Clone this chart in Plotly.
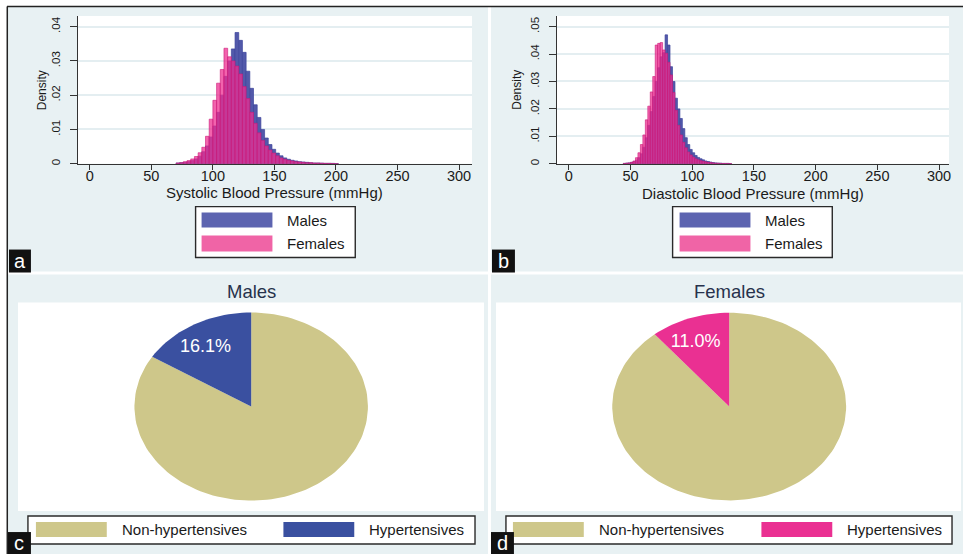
import math
import plotly.graph_objects as go

W, H = 965, 555
FONT = "Liberation Sans, Arial, sans-serif"

# ---------------- data ----------------
sex_labels = ["Males", "Females"]
status_labels = ["Non-hypertensives", "Hypertensives"]
pie_titles = ["Males", "Females"]
panel_letters = ["a", "b", "c", "d"]

male_pct = [83.9, 16.1]
female_pct = [89.0, 11.0]

x_ticks = [0, 50, 100, 150, 200, 250, 300]
sbp_yticks = [0, 0.01, 0.02, 0.03, 0.04]
sbp_yticktext = ["0", ".01", ".02", ".03", ".04"]
dbp_yticks = [0, 0.01, 0.02, 0.03, 0.04, 0.05]
dbp_yticktext = ["0", ".01", ".02", ".03", ".04", ".05"]

sbp_title = "Systolic Blood Pressure (mmHg)"
dbp_title = "Diastolic Blood Pressure (mmHg)"
y_title = "Density"

sbp_bin_width = 3
sbp_edges = [70, 73, 76, 79, 82, 85, 88, 91, 94, 97, 100, 103, 106, 109, 112, 115,
             118, 121, 124, 127, 130, 133, 136, 139, 142, 145, 148, 151, 154, 157,
             160, 163, 166, 169, 172, 175, 178, 181, 184, 187, 190, 193, 196, 199]
sbp_male = [0.0002, 0.0003, 0.0004, 0.0006, 0.0009, 0.0014, 0.0022, 0.0035, 0.0052,
            0.0078, 0.0110, 0.0150, 0.0200, 0.0255, 0.0300, 0.0335, 0.0383, 0.0360,
            0.0325, 0.0270, 0.0220, 0.0172, 0.0135, 0.0100, 0.0075, 0.0056, 0.0042,
            0.0031, 0.0023, 0.0017, 0.0013, 0.0010, 0.0008, 0.0006, 0.0005, 0.0004,
            0.0003, 0.0002, 0.0002, 0.00015, 0.0001, 0.0001, 0.0001, 0.00005]
sbp_female = [0.0002, 0.0003, 0.0006, 0.0009, 0.0014, 0.0021, 0.0032, 0.0048, 0.0080,
              0.0130, 0.0185, 0.0235, 0.0275, 0.0337, 0.0312, 0.0300, 0.0285, 0.0262,
              0.0225, 0.0190, 0.0150, 0.0118, 0.0090, 0.0068, 0.0052, 0.0040, 0.0031,
              0.0023, 0.0017, 0.0013, 0.0010, 0.0008, 0.0006, 0.0005, 0.0004, 0.0003,
              0.0003, 0.0002, 0.0002, 0.00015, 0.0001, 0.0001, 0.00005, 0.0]

dbp_bin_width = 2
dbp_edges = [44, 46, 48, 50, 52, 54, 56, 58, 60, 62, 64, 66, 68, 70, 72, 74, 76, 78,
             80, 82, 84, 86, 88, 90, 92, 94, 96, 98, 100, 102, 104, 106, 108, 110,
             112, 114, 116, 118, 120, 122, 124, 126, 128, 130]
dbp_male = [0.0001, 0.0002, 0.0003, 0.0005, 0.0008, 0.0013, 0.0022, 0.0036, 0.0060,
            0.0095, 0.0140, 0.0190, 0.0245, 0.0300, 0.0350, 0.0390, 0.0405, 0.0470,
            0.0433, 0.0354, 0.0300, 0.0239, 0.0200, 0.0165, 0.0128, 0.0095, 0.0070,
            0.0052, 0.0040, 0.0030, 0.0023, 0.0018, 0.0014, 0.0010, 0.0008, 0.0006,
            0.0004, 0.0003, 0.0002, 0.0002, 0.0001, 0.0001, 0.0001, 0.00005]
dbp_female = [0.0001, 0.0002, 0.0003, 0.0005, 0.0010, 0.0022, 0.0040, 0.0070, 0.0105,
              0.0160, 0.0210, 0.0262, 0.0318, 0.0433, 0.0439, 0.0442, 0.0415, 0.0403,
              0.0370, 0.0324, 0.0260, 0.0195, 0.0140, 0.0105, 0.0078, 0.0058, 0.0043,
              0.0032, 0.0024, 0.0018, 0.0014, 0.0011, 0.0009, 0.0007, 0.0005, 0.0004,
              0.0003, 0.0002, 0.0002, 0.0001, 0.0001, 0.0001, 0.0001, 0.00005]

# ---------------- styles ----------------
BG = "#E8F1F3"
GRID = "#E4EEF1"
MALE_BAR = "#5259AA"
MALE_LINE = "#3D459C"
FEMALE_BAR = "rgba(238,45,145,0.74)"
FEMALE_LINE = "rgba(205,25,120,0.85)"
MALE_SW = "#5D64B0"
FEMALE_SW = "#F064A6"
KHAKI = "#CEC78A"
NAVY = "#3A50A0"
PINK = "#EA3092"
TXT = "#1A1A1A"


def fx(px):
    return px / W


def fy(py):
    return 1 - py / H


fig = go.Figure()

# ---------------- histograms ----------------
def add_hist(edges, width, male, female, ax):
    cx = [e + width / 2 for e in edges]
    fig.add_trace(go.Bar(x=cx, y=male, width=width, name=sex_labels[0],
                         marker=dict(color=MALE_BAR, line=dict(color=MALE_LINE, width=0.7)),
                         xaxis="x" + ax, yaxis="y" + ax, showlegend=False))
    fig.add_trace(go.Bar(x=cx, y=female, width=width, name=sex_labels[1],
                         marker=dict(color=FEMALE_BAR, line=dict(color=FEMALE_LINE, width=0.7)),
                         xaxis="x" + ax, yaxis="y" + ax, showlegend=False))


add_hist(sbp_edges, sbp_bin_width, sbp_male, sbp_female, "")
add_hist(dbp_edges, dbp_bin_width, dbp_male, dbp_female, "2")

# ---------------- pies (elliptical, drawn on axes) ----------------
def arc_points(a0, a1, n=160):
    steps = max(2, int(abs(a1 - a0) / 360 * n) + 2)
    xs, ys = [], []
    for i in range(steps):
        a = math.radians(a0 + (a1 - a0) * i / (steps - 1))
        xs.append(math.cos(a))
        ys.append(math.sin(a))
    return xs, ys


def add_pie(values, colors, ax):
    start = 90.0
    total = sum(values)
    for i, v in enumerate(values):
        end = start - 360.0 * v / total
        xs, ys = arc_points(start, end)
        fig.add_trace(go.Scatter(x=[0] + xs + [0], y=[0] + ys + [0], mode="lines",
                                 fill="toself", fillcolor=colors[i],
                                 line=dict(width=0, color=colors[i]),
                                 name=status_labels[i], hoverinfo="skip",
                                 xaxis="x" + ax, yaxis="y" + ax, showlegend=False))
        if i == 1:
            mid = math.radians((start + end) / 2 + 3)
            r = 0.74
            fig.add_trace(go.Scatter(x=[r * math.cos(mid)], y=[r * math.sin(mid)],
                                     mode="text", text=[f"{v:.1f}%"],
                                     textfont=dict(color="white", size=18, family=FONT),
                                     xaxis="x" + ax, yaxis="y" + ax, showlegend=False,
                                     hoverinfo="skip"))
        start = end


add_pie(male_pct, [KHAKI, NAVY], "3")
add_pie(female_pct, [KHAKI, PINK], "4")

# ---------------- axes ----------------
def hist_axes(px0, px1, zero_px, px_per_unit, ymax_val, yticks, ytext):
    xr = [(px0 - zero_px) / px_per_unit, (px1 - zero_px) / px_per_unit]
    xa = dict(domain=[fx(px0), fx(px1)], range=xr, tickvals=x_ticks,
              ticks="outside", ticklen=5, tickcolor="#333", tickwidth=1,
              showline=True, linecolor="#333", linewidth=1, showgrid=False,
              zeroline=False, tickfont=dict(size=14.5, color=TXT, family=FONT),
              ticklabelstandoff=-6, fixedrange=True)
    ya = dict(domain=[fy(164), fy(16)], range=[0, ymax_val], tickvals=yticks,
              ticktext=ytext, tickangle=-90, ticks="outside", ticklen=7,
              tickcolor="#333", tickwidth=1, showline=True, linecolor="#333",
              linewidth=1, showgrid=True, gridcolor=GRID, gridwidth=1.6,
              zeroline=False, tickfont=dict(size=11.5, color=TXT, family=FONT),
              ticklabelstandoff=5, fixedrange=True)
    return xa, ya


xa1, ya1 = hist_axes(78, 473, 90, (460 - 90) / 300, (164 - 16) / (137.3 / 0.04),
                     sbp_yticks, sbp_yticktext)
xa2, ya2 = hist_axes(558, 951, 570, (941 - 570) / 300, (164 - 16) / (137.3 / 0.05),
                     dbp_yticks, dbp_yticktext)
xa1["anchor"] = "y"
ya1["anchor"] = "x"
xa2["anchor"] = "y2"
ya2["anchor"] = "x2"


def pie_axes(px0, px1, py0, py1, cx, cy, rx, ry, anchor_x, anchor_y):
    xa = dict(domain=[fx(px0), fx(px1)], range=[(px0 - cx) / rx, (px1 - cx) / rx],
              visible=False, fixedrange=True, anchor=anchor_y)
    ya = dict(domain=[fy(py1), fy(py0)], range=[(cy - py1) / ry, (cy - py0) / ry],
              visible=False, fixedrange=True, anchor=anchor_x)
    return xa, ya


xa3, ya3 = pie_axes(18, 485, 303, 512, 251.7, 407.3, 117.0, 94.2, "x3", "y3")
xa4, ya4 = pie_axes(497, 963, 303, 512, 730.7, 407.3, 117.2, 94.0, "x4", "y4")

# ---------------- shapes ----------------
shapes = []


def rect(x0, y0, x1, y1, fill, line_color=None, lw=0, layer="below"):
    shapes.append(dict(type="rect", xref="paper", yref="paper",
                       x0=fx(x0), x1=fx(x1), y0=fy(y1), y1=fy(y0),
                       fillcolor=fill, layer=layer,
                       line=dict(width=lw, color=line_color or fill)))


# panel backgrounds
panels = [(8, 7, 489, 272), (492, 7, 965, 272), (8, 275, 489, 555), (492, 275, 965, 555)]
for p in panels:
    rect(*p, BG)
# white plot regions
rect(78, 16, 473, 164, "white")
rect(558, 16, 951, 164, "white")
rect(18, 303, 485, 512, "white")
rect(497, 303, 963, 512, "white")

# outer border lines
shapes.append(dict(type="line", xref="paper", yref="paper", x0=fx(7), x1=fx(965),
                   y0=fy(6.5), y1=fy(6.5), line=dict(color="#222", width=1.5)))
shapes.append(dict(type="line", xref="paper", yref="paper", x0=fx(7.3), x1=fx(7.3),
                   y0=fy(6.5), y1=fy(555), line=dict(color="#222", width=1.5)))

annotations = []


def text(x, y, s, size, color=TXT, xanchor="center", angle=0):
    annotations.append(dict(x=fx(x), y=fy(y), xref="paper", yref="paper", text=s,
                            showarrow=False, xanchor=xanchor, yanchor="middle",
                            textangle=angle, borderpad=0,
                            font=dict(size=size, color=color, family=FONT)))


# histogram legends
for (bx0, bx1, sx0, sx1, tx) in [(196, 356, 202, 273, 287), (674, 834, 681, 752, 766)]:
    rect(bx0, 207, bx1, 258, "white", "#2A2A2A", 1.4, layer="above")
    rect(sx0, 213, sx1, 228, MALE_SW, layer="above")
    rect(sx0, 236, sx1, 252, FEMALE_SW, layer="above")
    text(tx, 221, sex_labels[0], 15, xanchor="left")
    text(tx, 244, sex_labels[1], 15, xanchor="left")

# pie legends
for (bx0, bx1, s1, t1, s2, t2, col) in [(28, 476, 36, 121, 284, 369, NAVY),
                                       (507, 954, 514, 599, 763, 848, PINK)]:
    rect(bx0, 517, bx1, 545, "white", "#2A2A2A", 1.4, layer="above")
    rect(s1, 523, s1 + 71, 538, KHAKI, layer="above")
    rect(s2, 523, s2 + 71, 538, col, layer="above")
    text(t1, 530.5, status_labels[0], 15, xanchor="left")
    text(t2, 530.5, status_labels[1], 15, xanchor="left")

# axis titles
text(275.5, 193, sbp_title, 15)
text(754.5, 193.5, dbp_title, 15)
text(41.5, 90, y_title, 12, angle=-90)
text(518, 90, y_title, 12, angle=-90)

# pie titles
text(251.7, 292, pie_titles[0], 18.5, color="#27324C")
text(731, 292, pie_titles[1], 18.5, color="#27324C")

# panel letters
for letter, (x0, y0, x1, y1) in zip(panel_letters, [(9, 250, 31, 273), (493, 250, 516, 273),
                                                    (8, 533, 31, 555), (492, 533, 515, 555)]):
    rect(x0, y0, x1, y1, "#111111", layer="above")
    text((x0 + x1) / 2, (y0 + y1) / 2 - 0.5, letter, 20, color="white")

fig.update_layout(
    width=W, height=H, margin=dict(l=0, r=0, t=0, b=0),
    paper_bgcolor="white", plot_bgcolor="rgba(0,0,0,0)",
    barmode="overlay", showlegend=False,
    font=dict(family=FONT, color=TXT),
    xaxis=xa1, yaxis=ya1, xaxis2=xa2, yaxis2=ya2,
    xaxis3=xa3, yaxis3=ya3, xaxis4=xa4, yaxis4=ya4,
    shapes=shapes, annotations=annotations,
)

fig.write_html("out.html", config={"displayModeBar": False},
               post_script="document.body.style.margin='0px';document.body.style.overflow='hidden';")
